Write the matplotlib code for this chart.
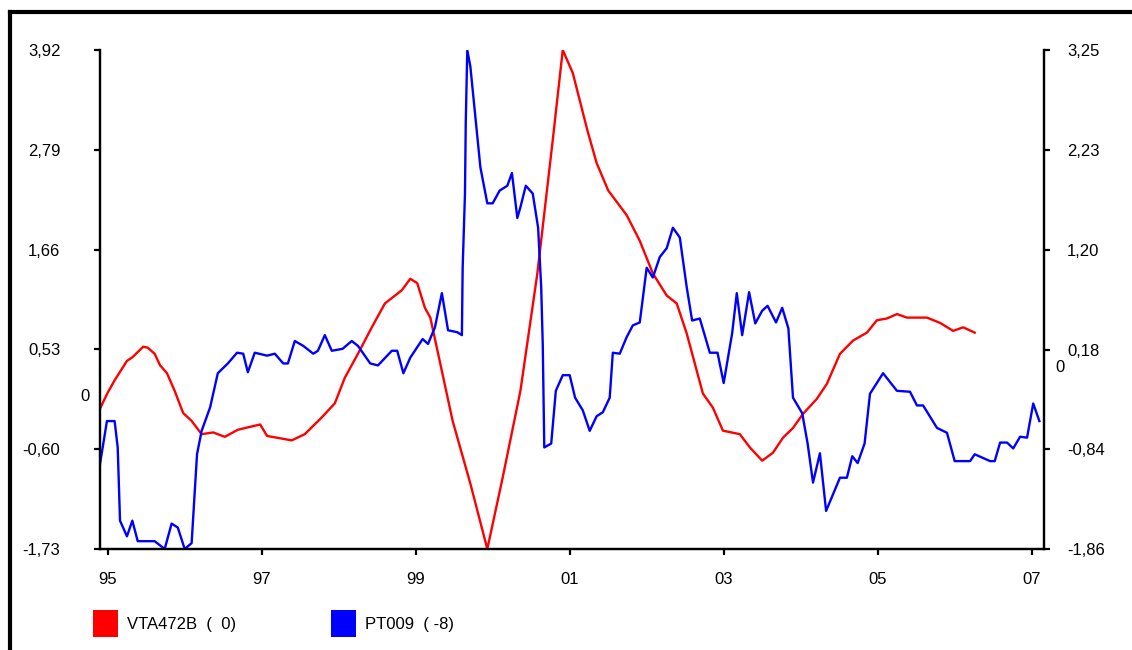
import matplotlib
matplotlib.use('Agg')
import matplotlib.pyplot as plt
from matplotlib.lines import Line2D
from matplotlib.patches import Rectangle

plt.rcParams['font.family'] = ['Liberation Sans', 'DejaVu Sans']

# VTA472B (left axis), decimal years
red_x = [1994.90, 1995.00, 1995.09, 1995.25, 1995.32, 1995.46, 1995.52, 1995.61, 1995.68, 1995.77,
         1995.87, 1995.98, 1996.09, 1996.22, 1996.37, 1996.52, 1996.69, 1996.98, 1997.07, 1997.39,
         1997.56, 1997.78, 1997.95, 1998.08, 1998.25, 1998.43, 1998.60, 1998.82, 1998.93, 1999.02,
         1999.12, 1999.19, 1999.48, 1999.71, 1999.93, 2000.13, 2000.36, 2000.58, 2000.78, 2000.91,
         2001.04, 2001.23, 2001.35, 2001.50, 2001.74, 2001.91, 2002.08, 2002.26, 2002.39, 2002.52,
         2002.73, 2002.86, 2002.99, 2003.21, 2003.34, 2003.50, 2003.64, 2003.77, 2003.90, 2004.03,
         2004.21, 2004.34, 2004.51, 2004.68, 2004.86, 2004.99, 2005.12, 2005.25, 2005.38, 2005.64,
         2005.81, 2005.98, 2006.11, 2006.26]
red_y = [-0.14, 0.04, 0.18, 0.40, 0.44, 0.56, 0.55, 0.48, 0.35, 0.26,
         0.06, -0.19, -0.28, -0.43, -0.41, -0.46, -0.38, -0.32, -0.45, -0.50,
         -0.43, -0.24, -0.08, 0.21, 0.48, 0.78, 1.05, 1.20, 1.33, 1.28,
         1.00, 0.89, -0.28, -0.99, -1.73, -0.92, 0.06, 1.39, 2.90, 3.92,
         3.66, 3.01, 2.64, 2.33, 2.05, 1.76, 1.39, 1.14, 1.05, 0.71,
         0.03, -0.13, -0.39, -0.43, -0.58, -0.73, -0.64, -0.47, -0.36, -0.20,
         -0.03, 0.14, 0.48, 0.63, 0.72, 0.86, 0.88, 0.93, 0.89, 0.89,
         0.83, 0.74, 0.78, 0.72]

# PT009 (right axis)
blue_x = [1994.90, 1994.99, 1995.09, 1995.13, 1995.16, 1995.25, 1995.32, 1995.39, 1995.61, 1995.74,
          1995.83, 1995.91, 1996.00, 1996.09, 1996.16, 1996.22, 1996.33, 1996.43, 1996.56, 1996.68,
          1996.76, 1996.82, 1996.91, 1997.07, 1997.17, 1997.28, 1997.34, 1997.43, 1997.54, 1997.67,
          1997.73, 1997.82, 1997.91, 1998.05, 1998.17, 1998.25, 1998.41, 1998.51, 1998.69, 1998.76,
          1998.84, 1998.93, 1999.09, 1999.16, 1999.25, 1999.34, 1999.42, 1999.54, 1999.60, 1999.61,
          1999.64, 1999.65, 1999.67, 1999.71, 1999.74, 1999.84, 1999.93, 2000.00, 2000.09, 2000.19,
          2000.25, 2000.32, 2000.36, 2000.43, 2000.52, 2000.59, 2000.63, 2000.65, 2000.67, 2000.76,
          2000.82, 2000.91, 2001.00, 2001.07, 2001.17, 2001.26, 2001.35, 2001.43, 2001.52, 2001.56,
          2001.65, 2001.74, 2001.82, 2001.91, 2002.00, 2002.08, 2002.17, 2002.26, 2002.34, 2002.43,
          2002.52, 2002.59, 2002.69, 2002.82, 2002.92, 2003.00, 2003.11, 2003.17, 2003.24, 2003.33,
          2003.41, 2003.50, 2003.57, 2003.68, 2003.76, 2003.84, 2003.90, 2004.02, 2004.09, 2004.16,
          2004.25, 2004.33, 2004.51, 2004.60, 2004.67, 2004.74, 2004.83, 2004.90, 2005.07, 2005.25,
          2005.42, 2005.51, 2005.59, 2005.77, 2005.90, 2006.00, 2006.20, 2006.26, 2006.46, 2006.52,
          2006.59, 2006.68, 2006.76, 2006.85, 2006.94, 2007.02, 2007.10]
blue_y = [-0.99, -0.55, -0.55, -0.82, -1.57, -1.73, -1.57, -1.78, -1.78, -1.86,
          -1.60, -1.64, -1.86, -1.80, -0.89, -0.65, -0.41, -0.06, 0.04, 0.15,
          0.14, -0.05, 0.15, 0.12, 0.14, 0.04, 0.04, 0.27, 0.22, 0.14,
          0.17, 0.33, 0.17, 0.19, 0.27, 0.22, 0.04, 0.02, 0.17, 0.17,
          -0.06, 0.10, 0.29, 0.24, 0.41, 0.76, 0.38, 0.36, 0.33, 1.02,
          1.78, 2.50, 3.25, 3.08, 2.84, 2.05, 1.68, 1.68, 1.81, 1.86,
          1.99, 1.53, 1.64, 1.86, 1.78, 1.43, 0.82, 0.24, -0.82, -0.78,
          -0.24, -0.08, -0.08, -0.31, -0.44, -0.65, -0.50, -0.46, -0.31, 0.15,
          0.14, 0.31, 0.43, 0.46, 1.02, 0.92, 1.13, 1.22, 1.43, 1.33,
          0.82, 0.48, 0.50, 0.15, 0.15, -0.16, 0.35, 0.76, 0.33, 0.77,
          0.45, 0.58, 0.63, 0.46, 0.61, 0.40, -0.31, -0.47, -0.78, -1.18,
          -0.88, -1.47, -1.13, -1.13, -0.91, -0.98, -0.78, -0.27, -0.06, -0.24,
          -0.25, -0.39, -0.39, -0.62, -0.67, -0.96, -0.96, -0.89, -0.96, -0.96,
          -0.77, -0.77, -0.83, -0.71, -0.72, -0.37, -0.55]

x_ticks = [1995, 1997, 1999, 2001, 2003, 2005, 2007]
x_labels = ['95', '97', '99', '01', '03', '05', '07']
left_ticks = [-1.73, -0.60, 0.53, 1.66, 2.79, 3.92]
right_ticks = [-1.86, -0.84, 0.18, 1.20, 2.23, 3.25]
legend_labels = ['VTA472B  (  0)', 'PT009  ( -8)']
colors = ['#ff0000', '#0000ff']

fig = plt.figure(figsize=(11.32, 6.5), dpi=100)
ax = fig.add_axes([100/1132, 1 - 549/650, 944/1132, 499/650])
ax2 = ax.twinx()

ax.plot(red_x, red_y, color=colors[0], lw=1.7)
ax2.plot(blue_x, blue_y, color=colors[1], lw=1.7)

ax.set_xlim(1994.90, 2007.16)
ax.set_ylim(left_ticks[0], left_ticks[-1])
ax2.set_ylim(right_ticks[0], right_ticks[-1])

ax.set_xticks(x_ticks)
ax.set_xticklabels(x_labels)
ax.set_yticks(left_ticks)
ax.set_yticklabels([f'{v:.2f}'.replace('.', ',') for v in left_ticks])
ax2.set_yticks(right_ticks)
ax2.set_yticklabels([f'{v:.2f}'.replace('.', ',') for v in right_ticks])

for a in (ax, ax2):
    a.spines['top'].set_visible(False)
    for s in ('left', 'right', 'bottom'):
        a.spines[s].set_linewidth(1.6)
    a.tick_params(width=1.6, length=4.5, labelsize=12, colors='black')
ax.tick_params(axis='y', pad=24)
ax.tick_params(axis='x', pad=12)
ax2.tick_params(axis='y', pad=12)

# zero markers
ax.text(-0.011, 0, '0', transform=ax.get_yaxis_transform(), ha='right', va='center', fontsize=12)
ax2.text(1.012, 0, '0', transform=ax2.get_yaxis_transform(), ha='left', va='center', fontsize=12)

# legend
for i, (lab, col) in enumerate(zip(legend_labels, colors)):
    x0 = [93, 331][i]
    fig.add_artist(Rectangle((x0/1132, 1 - 637/650), 25/1132, 27/650,
                             transform=fig.transFigure, facecolor=col, edgecolor='none'))
    fig.text((x0 + 34)/1132, 1 - 624/650, lab, fontsize=12, va='center', ha='left')

# frame
fig.add_artist(Line2D([10/1132, 1], [1 - 12/650, 1 - 12/650], transform=fig.transFigure, color='black', lw=3))
fig.add_artist(Line2D([10/1132, 10/1132], [0, 1 - 12/650], transform=fig.transFigure, color='black', lw=3))

fig.savefig('out.png', dpi=100)
